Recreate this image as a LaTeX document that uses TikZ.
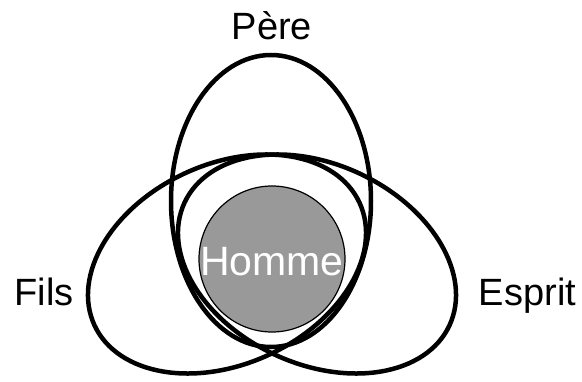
\documentclass[tikz,border=0pt]{standalone}
\usepackage{fontspec}
\setmainfont{Liberation Sans}
\usepackage{tikz}
\definecolor{grishomme}{RGB}{153,153,153}
\tikzset{
    trait/.style={line width=4.5pt, color=black},
    etiquette/.style={font=\fontsize{38}{38}\selectfont, anchor=base, inner sep=0pt}
}

\begin{document}
\begin{tikzpicture}[x=1pt,y=1pt]
        \useasboundingbox (0,0) rectangle (582,381);
        \node[circle, draw=black, line width=1.2pt, fill=grishomme, minimum size=146pt, inner sep=0pt] (homme) at (272,122) {};
        \node[etiquette, text=white, font=\fontsize{41}{41}\selectfont] (hommetexte) at (272,106) {Homme};
        \draw[trait] (271,180) ellipse [x radius=100, y radius=146];
        \foreach \cx/\ang in {227/24.8, 317/-24.8}
        \draw[trait, rotate around={\ang:(\cx,117)}] (\cx,117) ellipse [x radius=146, y radius=100];
        \node[etiquette] (pere) at (272,341) {Père};
        \node[etiquette] (fils) at (44,76) {Fils};
        \node[etiquette] (esprit) at (527.5,76) {Esprit};
    \end{tikzpicture}
\end{document}
